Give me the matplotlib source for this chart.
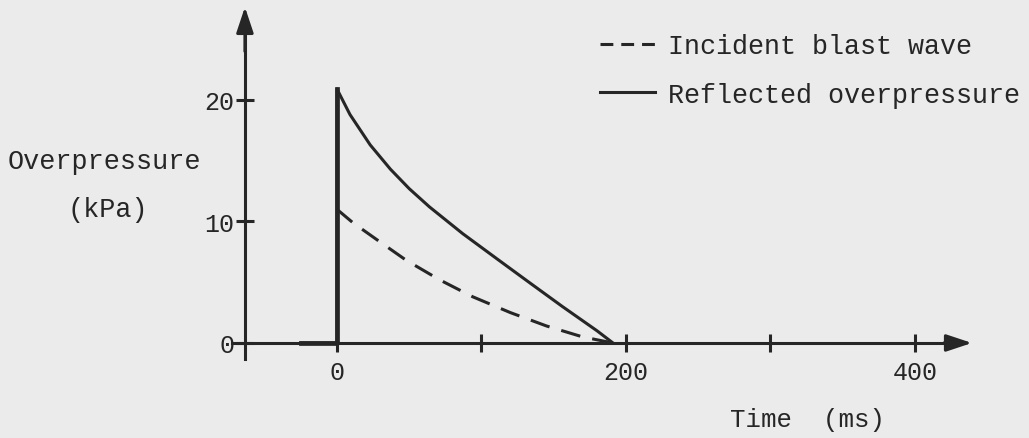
import matplotlib
matplotlib.use("Agg")
import matplotlib.pyplot as plt
from matplotlib.lines import Line2D

# values (time in ms, overpressure in kPa)
t_reflected = [-25, 0, 0, 9, 23, 37, 50, 64, 87, 111, 134, 156, 180, 191]
p_reflected = [0, 0, 20.9, 18.8, 16.3, 14.3, 12.7, 11.2, 9.0, 6.9, 4.9, 3.0, 1.0, 0]

t_incident = [0, 11, 30, 48, 71, 94, 120, 145, 170, 191]
p_incident = [11.0, 9.9, 8.3, 6.8, 5.2, 3.8, 2.5, 1.4, 0.5, 0]

x_ticks = [0, 100, 200, 300, 400]
x_ticklabels = ["0", "", "200", "", "400"]
y_ticks = [0, 10, 20]
y_ticklabels = ["0", "10", "20"]

legend_labels = ["Incident blast wave", "Reflected overpressure"]

ink = "#262626"
paper = "#ebebeb"
font = "Liberation Mono"

plt.rcParams["font.family"] = [font, "DejaVu Sans Mono"]

fig = plt.figure(figsize=(10.29, 4.39), dpi=100, facecolor=paper)
ax = fig.add_axes([0, 0, 1, 1])
ax.set_facecolor(paper)

# map data onto the page the way the scan does
ax.set_xlim(-233.2, 478.9)
ax.set_ylim(-7.82, 28.31)

ax.plot(t_reflected, p_reflected, color=ink, lw=2.2, solid_joinstyle="round")
ax.plot(t_reflected[:3], p_reflected[:3], color=ink, lw=3.4)
ax.plot(t_incident, p_incident, color=ink, lw=2.2, dashes=(6.5, 4))

# axes with arrow heads
for s in ["top", "right"]:
    ax.spines[s].set_visible(False)
ax.spines["left"].set_position(("data", -63.7))
ax.spines["bottom"].set_position(("data", 0))
ax.spines["left"].set_bounds(-1.3, 26)
ax.spines["bottom"].set_bounds(-72.7, 425)
for s in ["left", "bottom"]:
    ax.spines[s].set_linewidth(2.2)
    ax.spines[s].set_color(ink)
arrow = dict(arrowstyle="-|>,head_length=0.6,head_width=0.2", lw=2.2, color=ink,
             mutation_scale=26, shrinkA=0, shrinkB=0)
ax.annotate("", xy=(-63.7, 27.65), xytext=(-63.7, 24), arrowprops=arrow)
ax.annotate("", xy=(439.4, 0), xytext=(420, 0), arrowprops=arrow)

ax.set_xticks(x_ticks)
ax.set_xticklabels(x_ticklabels)
ax.set_yticks(y_ticks)
ax.set_yticklabels(y_ticklabels)
ax.tick_params(axis="both", direction="inout", length=13, width=2.2, color=ink,
               labelsize=18, labelcolor=ink)
ax.tick_params(axis="x", pad=6)
ax.tick_params(axis="y", pad=1)

fig.text(8 / 1029, 1 - 162 / 439, "Overpressure", ha="left", va="center",
         fontsize=19.4, color=ink)
fig.text(68 / 1029, 1 - 210 / 439, "(kPa)", ha="left", va="center",
         fontsize=19.4, color=ink)
fig.text(730 / 1029, 1 - 420 / 439, "Time  (ms)", ha="left", va="center",
         fontsize=18.5, color=ink)

handles = [Line2D([], [], color=ink, lw=2.2, dashes=(4.2, 2.6)),
           Line2D([], [], color=ink, lw=2.2)]
ax.legend(handles, legend_labels, loc="upper left",
          bbox_to_anchor=(600 / 1029, 1 - 34 / 439), bbox_transform=fig.transFigure,
          frameon=False, borderpad=0, borderaxespad=0, handlelength=2.05,
          handletextpad=0.5, labelspacing=0.85, prop={"family": font, "size": 19.3},
          labelcolor=ink)

fig.savefig("out.png", dpi=100, facecolor=paper)
